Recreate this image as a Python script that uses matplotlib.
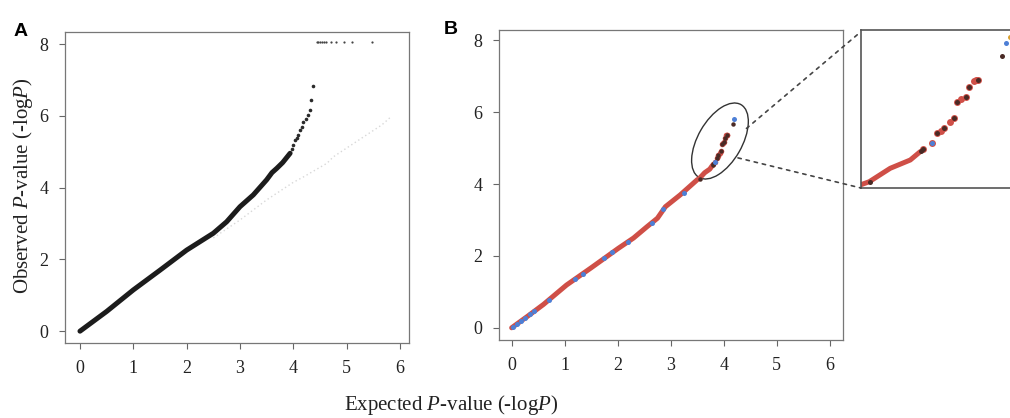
import matplotlib.pyplot as plt
from matplotlib.patches import Ellipse, ConnectionPatch
from matplotlib.transforms import ScaledTranslation

plt.rcParams['font.family'] = 'Liberation Serif'
plt.rcParams['mathtext.fontset'] = 'custom'
plt.rcParams['mathtext.rm'] = 'Liberation Serif'
plt.rcParams['mathtext.it'] = 'Liberation Serif:italic'

# panel A - all SNPs
a_exp = [0, 0.5, 1.0, 1.5, 2.0, 2.5, 2.75, 3.0, 3.25, 3.5, 3.6, 3.69, 3.8, 3.94]
a_obs = [0, 0.55, 1.15, 1.7, 2.26, 2.73, 3.05, 3.47, 3.8, 4.22, 4.42, 4.54, 4.7, 4.96]
a_tail_exp = [3.97, 4.0, 4.03, 4.06, 4.09, 4.13, 4.16, 4.19, 4.23, 4.28, 4.31, 4.33, 4.36]
a_tail_obs = [5.08, 5.2, 5.32, 5.38, 5.46, 5.61, 5.7, 5.84, 5.92, 6.03, 6.17, 6.45, 6.84]
a_top_exp = [4.44, 4.47, 4.5, 4.53, 4.57, 4.62, 4.7, 4.8, 4.95, 5.1, 5.47]
a_top_obs = [8.05, 8.05, 8.05, 8.05, 8.05, 8.05, 8.05, 8.05, 8.05, 8.05, 8.05]
null_exp = [2.5, 3.0, 3.5, 4.0, 4.19, 4.63, 4.75, 5.3, 5.66, 5.81]
null_obs = [2.6, 3.1, 3.66, 4.15, 4.3, 4.68, 4.86, 5.4, 5.75, 5.95]

# panel B - pruned SNPs
b_exp = [0, 0.3, 0.6, 1.035, 1.5, 2.01, 2.3, 2.55, 2.75, 2.9, 3.18, 3.5, 3.54, 3.641, 3.738, 3.786]
b_obs = [0, 0.32, 0.65, 1.19, 1.67, 2.21, 2.5, 2.81, 3.05, 3.37, 3.7, 4.12, 4.156, 4.317, 4.417, 4.517]
b_tail_exp = [3.80, 3.843, 3.867, 3.885, 3.9, 3.93, 3.949, 3.965, 3.985, 4.005, 4.021, 4.046, 4.055, 4.065]
b_tail_obs = [4.55, 4.619, 4.739, 4.77, 4.799, 4.87, 4.92, 5.12, 5.15, 5.18, 5.293, 5.369, 5.375, 5.381]
b_dark_exp = [3.545, 3.79, 3.80, 3.867, 3.9, 3.949, 3.965, 4.005, 4.021, 4.065, 4.183]
b_dark_obs = [4.15, 4.52, 4.55, 4.739, 4.799, 4.92, 5.12, 5.18, 5.293, 5.381, 5.662]
b_blue_exp = [0.03, 0.1, 0.18, 0.26, 0.34, 0.42, 0.7, 1.2, 1.35, 1.75, 1.9, 2.2, 2.65, 2.85, 3.25, 3.843, 4.199]
b_blue_obs = [0.03, 0.1, 0.19, 0.28, 0.37, 0.46, 0.78, 1.35, 1.5, 1.93, 2.1, 2.4, 2.92, 3.3, 3.75, 4.619, 5.823]
b_top_exp = [4.22]
b_top_obs = [5.896]

red = '#cf4f47'
blue = '#4d7fd6'
dark = '#4a2a25'

fig = plt.figure(figsize=(10.1, 4.18), dpi=100)
axA = fig.add_axes([0.0644, 0.1794, 0.3406, 0.744])
axB = fig.add_axes([0.494, 0.1866, 0.3406, 0.7416])
axI = fig.add_axes([0.8525, 0.5502, 0.207, 0.378])


def style(ax):
    for s in ax.spines.values():
        s.set_color('#777777')
        s.set_linewidth(0.9)
    ax.tick_params(direction='out', length=4, width=0.8, color='#666666',
                   labelsize=13, labelcolor='#222222', pad=8)


# A
axA.plot(null_exp, null_obs, color='#d8d8d8', lw=1, ls=(0, (1, 2)))
axA.plot(a_exp, a_obs, color='#1c1c1c', lw=3.6, solid_capstyle='round')
axA.plot(a_tail_exp, a_tail_obs, 'o', color='#2a2a2a', ms=2.6, mew=0)
axA.plot(a_top_exp, a_top_obs, 'o', color='#444444', ms=1.6, mew=0)
axA.set_xlim(-0.28, 6.17)
axA.set_ylim(-0.33, 8.34)
axA.set_xticks(range(7))
axA.set_yticks([0, 2, 4, 6, 8])
style(axA)

# B
axB.plot(b_exp, b_obs, color=red, lw=3.6, solid_capstyle='round')
axB.plot(b_tail_exp, b_tail_obs, 'o', color=red, ms=4, mew=0)
axB.plot(b_dark_exp, b_dark_obs, 'o', color=dark, ms=3.2, mew=0)
axB.plot(b_blue_exp, b_blue_obs, 'o', color=blue, ms=3.6, mew=0)
axB.set_xlim(-0.24, 6.25)
axB.set_ylim(-0.34, 8.29)
axB.set_xticks(range(7))
axB.set_yticks([0, 2, 4, 6, 8])
style(axB)

ell = Ellipse((0, 0), width=0.84, height=0.44, angle=60, fill=False,
              ec='#333333', lw=1.0,
              transform=fig.dpi_scale_trans + ScaledTranslation(3.93, 5.20, axB.transData))
axB.add_artist(ell)

# inset - zoom of the tail in B
axI.plot(b_exp, b_obs, color=red, lw=3.6, solid_capstyle='round')
axI.plot(b_tail_exp, b_tail_obs, 'o', color=red, ms=5, mew=0)
axI.plot(b_dark_exp, b_dark_obs, 'o', color=dark, ms=3.6, mew=0)
axI.plot(b_blue_exp, b_blue_obs, 'o', color=blue, ms=3.6, mew=0)
axI.plot(b_top_exp, b_top_obs, 'o', color='#d8a030', ms=3.6, mew=0)
axI.set_xlim(3.5, 4.51)
axI.set_ylim(4.08, 5.98)
axI.set_xticks([])
axI.set_yticks([])
for s in axI.spines.values():
    s.set_color('#555555')
    s.set_linewidth(1.2)

for xyA, xyB in [((4.43, 5.55), (0, 0.99)), ((4.27, 4.73), (0, 0))]:
    con = ConnectionPatch(xyA=xyA, coordsA=axB.transData, xyB=xyB, coordsB=axI.transAxes,
                          color='#444444', lw=1.2, ls=(0, (2, 3)))
    fig.add_artist(con)

fig.text(0.013, 0.925, 'A', family='Liberation Sans', weight='bold', fontsize=14, va='center')
fig.text(0.439, 0.93, 'B', family='Liberation Sans', weight='bold', fontsize=14, va='center')
fig.text(0.4465, 0.031, 'Expected $P$-value (-log$P$)', fontsize=15, ha='center', va='center',
         color='#222222')
fig.text(0.023, 0.555, 'Observed $P$-value (-log$P$)', fontsize=15, ha='center', va='center',
         rotation=90, color='#222222')

fig.savefig('out.png', dpi=100)
